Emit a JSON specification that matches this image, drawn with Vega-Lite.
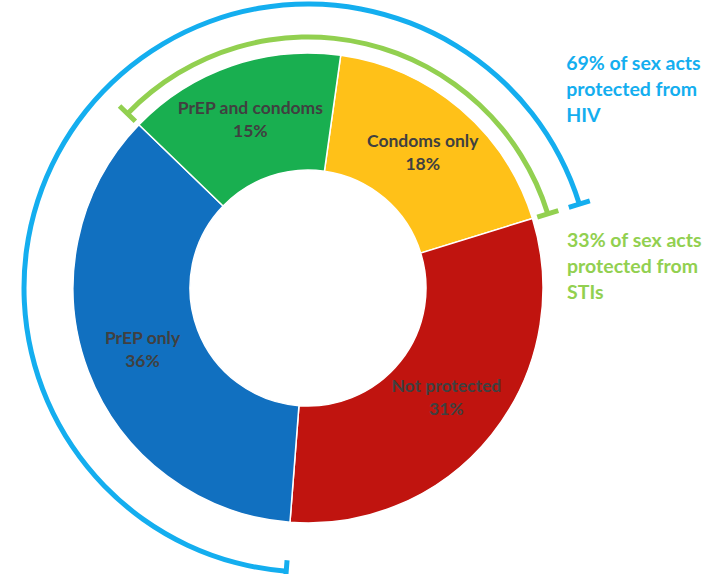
{
  "$schema": "https://vega.github.io/schema/vega-lite/v6.json",
  "width": 616,
  "height": 576,
  "autosize": {"type": "none"},
  "padding": {"left": 0, "top": 0, "right": 93, "bottom": 0},
  "background": "white",
  "config": {"view": {"stroke": null}, "text": {"font": "Lato"}},
  "layer": [
    {
      "data": {"values": [
        {"category": "Condoms only", "value": 18, "order": 1, "label": "Condoms only\n18%"},
        {"category": "Not protected", "value": 31, "order": 2, "label": "Not protected\n31%"},
        {"category": "PrEP only", "value": 36, "order": 3, "label": "PrEP only\n36%"},
        {"category": "PrEP and condoms", "value": 15, "order": 4, "label": "PrEP and condoms\n15%"}
      ]},
      "layer": [
        {
          "mark": {"type": "arc", "innerRadius": 118, "outerRadius": 235, "stroke": "white", "strokeWidth": 1.5},
          "encoding": {
            "theta": {"field": "value", "type": "quantitative", "stack": true, "scale": {"domain": [0, 100], "range": [0.1396, 6.4228]}},
            "order": {"field": "order", "type": "quantitative"},
            "color": {"field": "category", "type": "nominal", "legend": null,
              "scale": {"domain": ["Condoms only", "Not protected", "PrEP only", "PrEP and condoms"],
                        "range": ["#FFC118", "#C0140F", "#1170C0", "#19AF50"]}}
          }
        },
        {
          "mark": {"type": "text", "radius": 177, "fontWeight": "bold", "fontSize": 17.5, "lineBreak": "\n", "lineHeight": 23, "dy": -11.5, "color": "#404040", "align": "center", "baseline": "middle"},
          "encoding": {
            "theta": {"field": "value", "type": "quantitative", "stack": true, "scale": {"domain": [0, 100], "range": [0.1396, 6.4228]}},
            "order": {"field": "order", "type": "quantitative"},
            "text": {"field": "label", "type": "nominal"}
          }
        }
      ]
    },
    {
      "data": {"values": [{"bracket": "HIV", "from": 49, "to": 118}]},
      "mark": {"type": "arc", "innerRadius": 281.5, "outerRadius": 286.5, "color": "#14AEEF"},
      "encoding": {
        "theta": {"field": "from", "type": "quantitative", "scale": {"domain": [0, 100], "range": [0.1396, 6.4228]}},
        "theta2": {"field": "to"}
      }
    },
    {
      "data": {"values": [{"bracket": "STIs", "from": 85, "to": 118}]},
      "mark": {"type": "arc", "innerRadius": 248.5, "outerRadius": 253.5, "color": "#92D050"},
      "encoding": {
        "theta": {"field": "from", "type": "quantitative", "scale": {"domain": [0, 100], "range": [0.1396, 6.4228]}},
        "theta2": {"field": "to"}
      }
    },
    {
      "data": {"values": [{"bracket": "HIV", "at": 49}, {"bracket": "HIV", "at": 118}]},
      "mark": {"type": "arc", "innerRadius": 273, "outerRadius": 295, "fill": null, "stroke": "#14AEEF", "strokeWidth": 5},
      "encoding": {
        "theta": {"field": "at", "type": "quantitative", "scale": {"domain": [0, 100], "range": [0.1396, 6.4228]}},
        "theta2": {"field": "at"}
      }
    },
    {
      "data": {"values": [{"bracket": "STIs", "at": 85}, {"bracket": "STIs", "at": 118}]},
      "mark": {"type": "arc", "innerRadius": 240, "outerRadius": 262, "fill": null, "stroke": "#92D050", "strokeWidth": 5},
      "encoding": {
        "theta": {"field": "at", "type": "quantitative", "scale": {"domain": [0, 100], "range": [0.1396, 6.4228]}},
        "theta2": {"field": "at"}
      }
    },
    {
      "data": {"values": [{"note": "69% of sex acts\nprotected from\nHIV", "anchor": 11.08}]},
      "mark": {"type": "text", "radius": 348, "fontWeight": "bold", "fontSize": 19.5, "lineBreak": "\n", "lineHeight": 26, "color": "#14AEEF", "align": "left", "baseline": "top"},
      "encoding": {
        "theta": {"field": "anchor", "type": "quantitative", "scale": {"domain": [0, 100], "range": [0.1396, 6.4228]}},
        "text": {"field": "note", "type": "nominal"}
      }
    },
    {
      "data": {"values": [{"note": "33% of sex acts\nprotected from\nSTIs", "anchor": 19.39}]},
      "mark": {"type": "text", "radius": 265, "fontWeight": "bold", "fontSize": 19.5, "lineBreak": "\n", "lineHeight": 26, "color": "#92D050", "align": "left", "baseline": "top"},
      "encoding": {
        "theta": {"field": "anchor", "type": "quantitative", "scale": {"domain": [0, 100], "range": [0.1396, 6.4228]}},
        "text": {"field": "note", "type": "nominal"}
      }
    }
  ]
}
